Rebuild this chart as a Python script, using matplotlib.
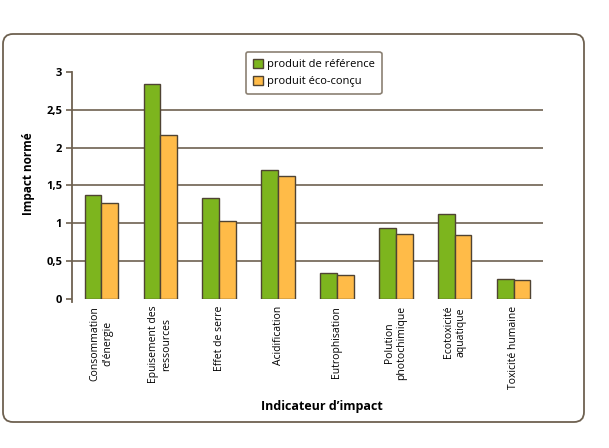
import numpy as np
import matplotlib
matplotlib.use("Agg")
import matplotlib.pyplot as plt
from matplotlib.patches import FancyBboxPatch

# %% Data
categories = ["Consommation\nd'énergie", "Epuisement des\nressources", "Effet de serre",
              "Acidification", "Eutrophisation", "Polution\nphotochimique",
              "Ecotoxicité\naquatique", "Toxicité humaine"]
reference = [1.37, 2.84, 1.33, 1.70, 0.34, 0.93, 1.12, 0.26]
eco = [1.27, 2.16, 1.03, 1.63, 0.32, 0.85, 0.84, 0.25]
yticks = [0, 0.5, 1, 1.5, 2, 2.5, 3]
yticklabels = ["0", "0,5", "1", "1,5", "2", "2,5", "3"]

# %% Style
plt.rcParams['font.family'] = ['Open Sans', 'DejaVu Sans']
edge = '#4f4333'
line = '#6e6150'
green = '#7db51e'
orange = '#ffbb48'

fig = plt.figure(figsize=(6.09, 4.48), dpi=100)

# outer rounded frame, drawn behind the axes
frame = FancyBboxPatch((0.03, 0.26), 5.81, 3.88, boxstyle="round,pad=0,rounding_size=0.1",
                       transform=fig.dpi_scale_trans, facecolor='white', edgecolor=line,
                       linewidth=1.3, zorder=-5)
fig.patches.append(frame)

ax = fig.add_axes([0.1182, 0.3333, 0.7734, 0.506])
ax.set_facecolor('none')
ax.set_zorder(2)

x = np.arange(len(categories))
w = 0.284
ax.bar(x - w / 2, reference, w, color=green, edgecolor=edge, linewidth=1.0,
       label='produit de référence', zorder=3)
ax.bar(x + w / 2, eco, w, color=orange, edgecolor=edge, linewidth=1.0,
       label='produit éco-conçu', zorder=3)

ax.set_xlim(-0.5, len(categories) - 0.5)
ax.set_ylim(0, 3)
ax.set_yticks(yticks)
ax.set_yticklabels(yticklabels, fontweight='bold', fontsize=8)
ax.set_xticks(x)
ax.set_xticklabels(categories, rotation=90, fontsize=7.5, ha='center', va='top',
                   multialignment='center')
ax.tick_params(axis='x', length=0, pad=5)
ax.tick_params(axis='y', length=4, width=1.2, color=line, direction='out', pad=3)

for s in ['top', 'right', 'bottom']:
    ax.spines[s].set_visible(False)
ax.spines['left'].set_color(line)
ax.spines['left'].set_linewidth(1.3)
ax.spines['left'].set_bounds(-0.04, 3)

for v in yticks[1:-1]:
    ax.axhline(v, color=line, linewidth=1.2, zorder=1)

fig.text(0.046, 0.612, 'Impact normé', fontweight='bold', fontsize=8.5,
         rotation=90, ha='center', va='center')
fig.text(0.529, 0.092, "Indicateur d\u2019impact", fontweight='bold', fontsize=9,
         ha='center', va='center')

leg = fig.legend(loc='upper left', bbox_to_anchor=(0.404, 0.884), fontsize=8,
                 frameon=True, fancybox=True, edgecolor=line, handlelength=0.9,
                 handleheight=0.9, handletextpad=0.4, borderpad=0.6, labelspacing=0.5,
                 borderaxespad=0)
leg.get_frame().set_linewidth(1.2)
leg.set_zorder(5)

fig.savefig('out.png', dpi=100)
